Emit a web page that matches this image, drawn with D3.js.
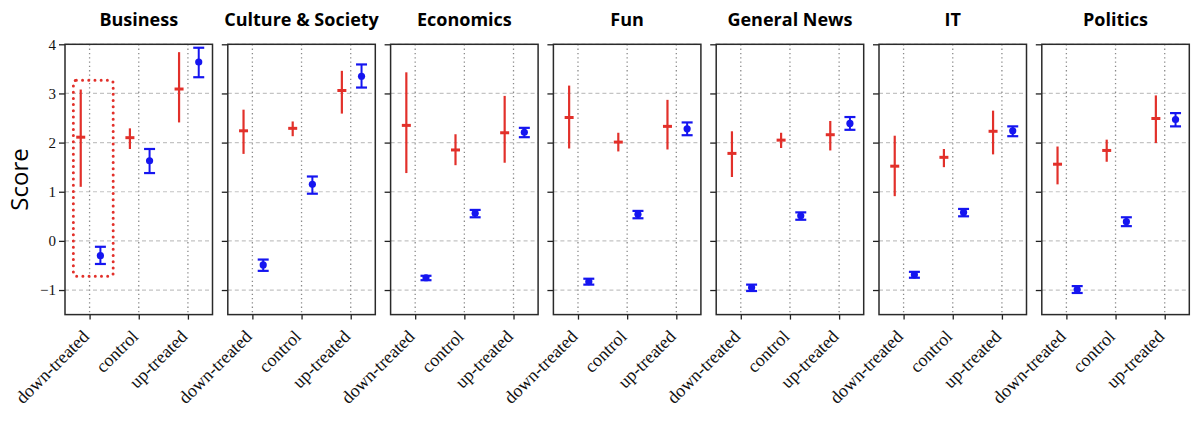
<!DOCTYPE html>
<html>
<head>
<meta charset="utf-8">
<script src="https://cdn.jsdelivr.net/npm/d3@7"></script>
<style>
  body { margin: 0; background: #fff; }
  svg { display: block; }
</style>
</head>
<body>
<div id="chart"></div>
<script>
// topics (one panel each) and groups on the x axis
var topics = ["Business", "Culture & Society", "Economics", "Fun", "General News", "IT", "Politics"];
var groups = ["down-treated", "control", "up-treated"];
var yTicks = [-1, 0, 1, 2, 3, 4];

// red series: mean and interval per topic, order = groups
var redMean = [[2.11, 2.10, 3.09], [2.24, 2.29, 3.06], [2.35, 1.85, 2.20], [2.51, 2.01, 2.33], [1.78, 2.05, 2.16], [1.52, 1.70, 2.23], [1.56, 1.84, 2.49]];
var redLow  = [[1.10, 1.87, 2.41], [1.77, 2.13, 2.59], [1.38, 1.54, 1.59], [1.88, 1.82, 1.86], [1.30, 1.89, 1.84], [0.91, 1.50, 1.76], [1.15, 1.61, 1.99]];
var redHigh = [[3.08, 2.29, 3.84], [2.67, 2.43, 3.46], [3.43, 2.17, 2.95], [3.16, 2.20, 2.87], [2.23, 2.20, 2.44], [2.14, 1.87, 2.65], [1.92, 2.06, 2.96]];

// blue series
var blueMean = [[-0.30, 1.63, 3.64], [-0.49, 1.15, 3.35], [-0.75, 0.56, 2.21], [-0.83, 0.54, 2.28], [-0.95, 0.51, 2.39], [-0.69, 0.58, 2.24], [-0.99, 0.39, 2.47]];
var blueLow  = [[-0.47, 1.38, 3.33], [-0.61, 0.96, 3.12], [-0.80, 0.48, 2.11], [-0.89, 0.46, 2.15], [-1.02, 0.43, 2.26], [-0.75, 0.50, 2.13], [-1.06, 0.30, 2.33]];
var blueHigh = [[-0.12, 1.87, 3.93], [-0.38, 1.31, 3.59], [-0.71, 0.63, 2.30], [-0.77, 0.61, 2.41], [-0.89, 0.58, 2.52], [-0.63, 0.65, 2.33], [-0.92, 0.48, 2.60]];

// highlight box on the first panel (data coords)
var boxX = [-0.33, 0.48];
var boxY = [-0.72, 3.27];

var svgWidth = 1200, svgHeight = 421;
var panelLeft = 65, panelStep = 162.8, panelWidth = 147.5;
var plotTop = 44.3, plotBottom = 314.6;
var red = "#e2302a", blue = "#1515f0";

var svg = d3.select("#chart").append("svg")
  .attr("width", svgWidth)
  .attr("height", svgHeight);

var yScale = d3.scaleLinear().domain([-1.5, 4]).range([plotBottom, plotTop]);
var xScale = d3.scaleLinear().domain([-0.5, 2.5]).range([0, panelWidth]);

svg.append("text")
  .attr("transform", `translate(28, ${(plotTop + plotBottom) / 2}) rotate(-90)`)
  .attr("text-anchor", "middle")
  .style("font-family", "'Open Sans', sans-serif")
  .style("font-size", "24px")
  .text("Score");

topics.forEach(function(topic, p) {
  var g = svg.append("g")
    .attr("transform", `translate(${panelLeft + p * panelStep}, 0)`);

  // title
  g.append("text")
    .attr("x", panelWidth / 2)
    .attr("y", 26)
    .attr("text-anchor", "middle")
    .style("font-family", "'Open Sans', sans-serif")
    .style("font-weight", "bold")
    .style("font-size", "18px")
    .text(topic);

  // horizontal dashed grid
  g.selectAll(".hgrid")
    .data(yTicks)
    .enter()
    .append("line")
    .attr("x1", 0).attr("x2", panelWidth)
    .attr("y1", d => yScale(d)).attr("y2", d => yScale(d))
    .attr("stroke", "#c4c4c4")
    .attr("stroke-width", 1.2)
    .attr("stroke-dasharray", "4,3");

  // vertical dotted grid
  g.selectAll(".vgrid")
    .data(groups)
    .enter()
    .append("line")
    .attr("x1", (d, i) => xScale(i)).attr("x2", (d, i) => xScale(i))
    .attr("y1", plotTop).attr("y2", plotBottom)
    .attr("stroke", "#8a8a8a")
    .attr("stroke-width", 1.3)
    .attr("stroke-dasharray", "1.3,3");

  // y axis ticks (labels only on first panel)
  var leftAxis = d3.axisLeft(yScale).tickValues(yTicks).tickSize(6).tickPadding(3)
    .tickFormat(p === 0 ? d3.format("d") : "");
  var ya = g.append("g").call(leftAxis);
  ya.select(".domain").remove();
  ya.selectAll("line").attr("stroke", "#222").attr("stroke-width", 1.3);
  ya.selectAll("text")
    .style("font-family", "'Liberation Serif', serif")
    .style("font-size", "15px")
    .attr("fill", "#111");

  // x axis ticks + rotated labels
  var bottomAxis = d3.axisBottom(xScale).tickValues([0, 1, 2]).tickSize(5)
    .tickFormat(i => groups[i]);
  var xa = g.append("g").attr("transform", `translate(0, ${plotBottom})`).call(bottomAxis);
  xa.select(".domain").remove();
  xa.selectAll("line").attr("stroke", "#222").attr("stroke-width", 1.3);
  xa.selectAll("text")
    .attr("text-anchor", "end")
    .attr("transform", "translate(-9, 14) rotate(-45)")
    .attr("dy", "0.71em")
    .attr("y", 0)
    .attr("x", 0)
    .style("font-family", "'Liberation Serif', serif")
    .style("font-size", "18px")
    .attr("fill", "#111");

  // frame
  g.append("rect")
    .attr("x", 0).attr("y", plotTop)
    .attr("width", panelWidth).attr("height", plotBottom - plotTop)
    .attr("fill", "none")
    .attr("stroke", "#2a2a2a")
    .attr("stroke-width", 1.5);

  // red bars
  var rd = groups.map((gr, i) => ({i: i, m: redMean[p][i], lo: redLow[p][i], hi: redHigh[p][i]}));
  g.selectAll(".rbar").data(rd).enter().append("line")
    .attr("x1", d => xScale(d.i - 0.18)).attr("x2", d => xScale(d.i - 0.18))
    .attr("y1", d => yScale(d.lo)).attr("y2", d => yScale(d.hi))
    .attr("stroke", red).attr("stroke-width", 2.2);
  g.selectAll(".rmark").data(rd).enter().append("line")
    .attr("x1", d => xScale(d.i - 0.18) - 4.5).attr("x2", d => xScale(d.i - 0.18) + 4.5)
    .attr("y1", d => yScale(d.m)).attr("y2", d => yScale(d.m))
    .attr("stroke", red).attr("stroke-width", 3);

  // blue bars with caps
  var bd = groups.map((gr, i) => ({i: i, m: blueMean[p][i], lo: blueLow[p][i], hi: blueHigh[p][i]}));
  g.selectAll(".bbar").data(bd).enter().append("line")
    .attr("x1", d => xScale(d.i + 0.22)).attr("x2", d => xScale(d.i + 0.22))
    .attr("y1", d => yScale(d.lo)).attr("y2", d => yScale(d.hi))
    .attr("stroke", blue).attr("stroke-width", 2);
  ["lo", "hi"].forEach(function(k) {
    g.selectAll(".bcap" + k).data(bd).enter().append("line")
      .attr("x1", d => xScale(d.i + 0.22) - 5.5).attr("x2", d => xScale(d.i + 0.22) + 5.5)
      .attr("y1", d => yScale(d[k])).attr("y2", d => yScale(d[k]))
      .attr("stroke", blue).attr("stroke-width", 2.2);
  });
  g.selectAll(".bdot").data(bd).enter().append("circle")
    .attr("cx", d => xScale(d.i + 0.22))
    .attr("cy", d => yScale(d.m))
    .attr("r", 3.6)
    .attr("fill", blue);

  if (p === 0) {
    g.append("rect")
      .attr("x", xScale(boxX[0])).attr("y", yScale(boxY[1]))
      .attr("width", xScale(boxX[1]) - xScale(boxX[0]))
      .attr("height", yScale(boxY[0]) - yScale(boxY[1]))
      .attr("rx", 3)
      .attr("fill", "none")
      .attr("stroke", red)
      .attr("stroke-width", 3)
      .attr("stroke-linecap", "round")
      .attr("stroke-dasharray", "0,6.2");
  }
});
</script>
</body>
</html>
